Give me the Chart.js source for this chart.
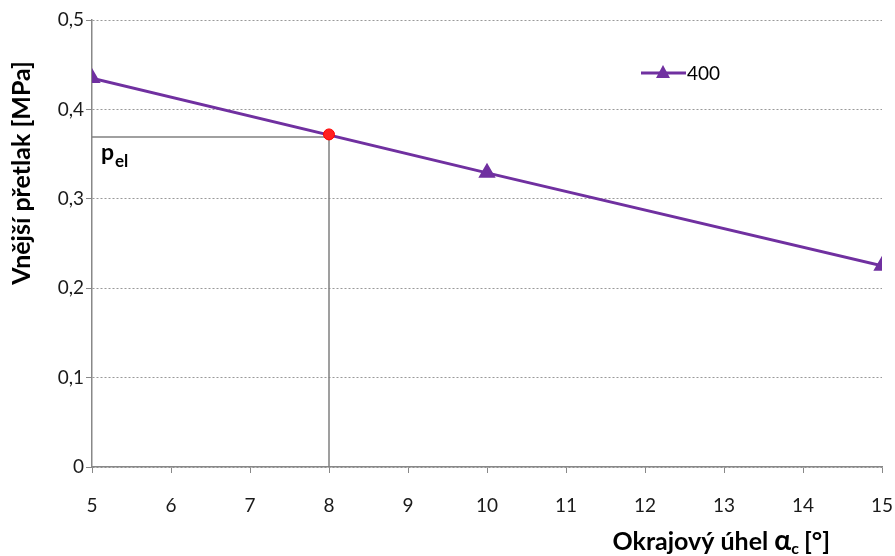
<!DOCTYPE html>
<html>
<head>
<meta charset="utf-8">
<script src="https://cdn.jsdelivr.net/npm/chart.js@4"></script>
<style>
  html, body { margin: 0; padding: 0; background: #fff; }
  #wrap { width: 895px; height: 556px; }
</style>
</head>
<body>
<div id="wrap"><canvas id="chart" width="895" height="556"></canvas></div>
<script>
const angles = [5, 10, 15];
const pressures = [0.435, 0.329, 0.225];
const seriesName = '400';
const pelAngle = 8;
const pelValue = 0.372;
const yTitle = 'Vnější přetlak [MPa]';

const purple = '#7030A0';
const font = 'Lato, "Liberation Sans", sans-serif';

const toPts = (xs, ys) => xs.map((x, i) => ({ x: x, y: ys[i] }));

// legend, axis titles and the p_el label
const extras = {
  id: 'extras',
  afterDraw(chart) {
    const c = chart.ctx;
    c.save();
    // legend
    c.strokeStyle = purple;
    c.lineWidth = 3;
    c.beginPath(); c.moveTo(641, 73); c.lineTo(686, 73); c.stroke();
    c.fillStyle = purple;
    c.beginPath(); c.moveTo(663, 65); c.lineTo(670, 78); c.lineTo(656, 78); c.closePath(); c.fill();
    c.fillStyle = '#000';
    c.font = '19px ' + font;
    c.textBaseline = 'middle';
    c.textAlign = 'left';
    c.fillText(seriesName, 687, 74);

    // p_el
    c.font = 'bold 23px ' + font;
    c.textBaseline = 'alphabetic';
    c.fillText('p', 101, 160);
    c.font = 'bold 17px ' + font;
    c.fillText('el', 115, 167);

    // y title
    c.save();
    c.translate(22, 173);
    c.rotate(-Math.PI / 2);
    c.font = 'bold 25px ' + font;
    c.textAlign = 'center';
    c.textBaseline = 'middle';
    c.fillText(yTitle, 0, 0);
    c.restore();

    // x title with subscript, right end at 830
    const y = 550;
    const f1 = 'bold 25px ' + font, fa = 'bold 28px ' + font, fs = 'bold 16px ' + font;
    const t1 = 'Okrajový úhel ', t2 = '[°]';
    c.font = f1; const w1 = c.measureText(t1).width, w4 = c.measureText(t2).width;
    c.font = fa; const w2 = c.measureText('α').width;
    c.font = fs; const w3 = c.measureText('c').width + 5;
    let x = 830 - (w1 + w2 + w3 + w4);
    c.textBaseline = 'alphabetic';
    c.font = f1; c.fillText(t1, x, y); x += w1;
    c.font = fa; c.fillText('α', x, y); x += w2;
    c.font = fs; c.fillText('c', x, y + 4); x += w3;
    c.font = f1; c.fillText(t2, x, y);
    c.restore();
  }
};

new Chart(document.getElementById('chart'), {
  type: 'line',
  data: {
    datasets: [
      {
        label: seriesName,
        data: toPts(angles, pressures),
        borderColor: purple,
        backgroundColor: purple,
        borderWidth: 3,
        pointStyle: 'triangle',
        pointRadius: 7,
        pointHoverRadius: 7,
        order: 1
      },
      {
        label: 'pel-h',
        data: [{ x: angles[0], y: pelValue - 0.003 }, { x: pelAngle, y: pelValue - 0.003 }],
        borderColor: '#808080',
        borderWidth: 1.5,
        pointRadius: 0,
        order: 3
      },
      {
        label: 'pel-v',
        data: [{ x: pelAngle, y: pelValue }, { x: pelAngle, y: 0 }],
        borderColor: '#808080',
        borderWidth: 1.5,
        pointRadius: 0,
        order: 3
      },
      {
        label: 'pel',
        data: [{ x: pelAngle, y: pelValue }],
        borderColor: '#FF0000',
        backgroundColor: '#FF2020',
        pointRadius: 5.5,
        showLine: false,
        order: 0
      }
    ]
  },
  options: {
    responsive: false,
    animation: false,
    layout: { padding: { top: 20, right: 0, left: 0, bottom: 0 } },
    plugins: {
      legend: { display: false },
      tooltip: { enabled: false }
    },
    scales: {
      x: {
        type: 'linear',
        min: 5,
        max: 15,
        afterFit: s => { s.height = 89; s.paddingLeft = 0; s.paddingRight = 13; },
        ticks: { stepSize: 1, maxRotation: 0, color: '#1a1a1a', font: { family: font, size: 19 }, padding: 21 },
        grid: { drawOnChartArea: false, drawTicks: true, tickLength: 6, color: '#888', tickColor: '#888' },
        border: { color: '#888', width: 1.5 }
      },
      y: {
        min: 0,
        max: 0.5,
        afterFit: s => { s.width = 92; },
        ticks: {
          stepSize: 0.1,
          color: '#1a1a1a',
          font: { family: font, size: 19 },
          padding: 2,
          callback: v => (v === 0 ? '0' : v.toFixed(1).replace('.', ','))
        },
        grid: { color: '#999', tickLength: 6, tickColor: '#888', tickBorderDash: [] },
        border: { color: '#888', width: 1.5, dash: [2, 2] }
      }
    }
  },
  plugins: [extras]
});
</script>
</body>
</html>
